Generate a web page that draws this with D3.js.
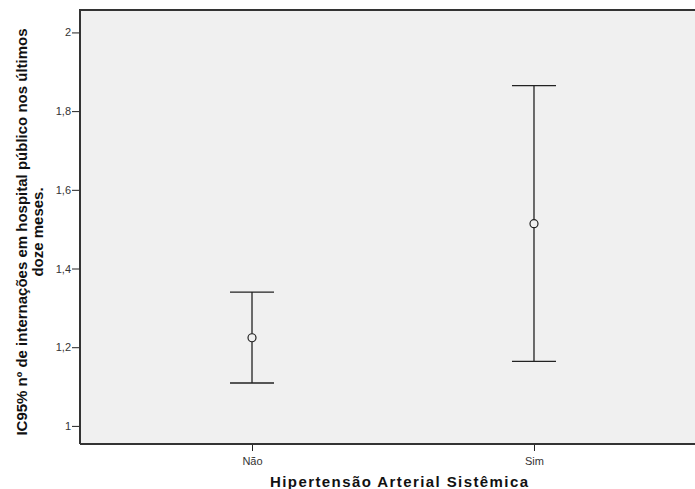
<!DOCTYPE html>
<html>
<head>
<meta charset="utf-8">
<script src="https://cdn.jsdelivr.net/npm/d3@7"></script>
<style>
body { margin: 0; background: #fff; }
svg { display: block; font-family: "Liberation Sans", Arial, sans-serif; }
</style>
</head>
<body>
<div id="chart"></div>
<script>
// grupos e IC95%
var categories = ['Não', 'Sim'];
var means = [1.224, 1.514];
var lower = [1.109, 1.164];
var upper = [1.340, 1.865];
var yTicks = [1, 1.2, 1.4, 1.6, 1.8, 2];

var width = 695, height = 489;
var margin = { top: 10, right: -11, bottom: 45, left: 80 };
var plotW = width - margin.left - margin.right,
    plotH = height - margin.top - margin.bottom;

var svg = d3.select('#chart').append('svg').attr('width', width).attr('height', height);
var g = svg.append('g').attr('transform', 'translate(' + margin.left + ',' + margin.top + ')');

var x = d3.scalePoint().domain(categories).range([0, plotW]).padding(0.61);
var y = d3.scaleLinear().domain([0.954, 2.057]).range([plotH, 0]);

g.append('rect').attr('width', plotW).attr('height', plotH).style('fill', '#f0f0f0');

var fmt = function(d) { return d3.format('.1f')(d).replace('.', ',').replace(',0', ''); };

var yAxis = g.append('g').call(d3.axisLeft(y).tickValues(yTicks).tickFormat(fmt).tickSize(8).tickPadding(1));
var xAxis = g.append('g').attr('transform', 'translate(0,' + plotH + ')')
    .call(d3.axisBottom(x).tickSize(7).tickPadding(6));
[yAxis, xAxis].forEach(function(a) {
    a.select('.domain').remove();
    a.selectAll('line').style('stroke', '#222');
    a.selectAll('text').style('font-size', '11px').style('fill', '#333');
});

// borda
g.append('path').attr('d', 'M0,' + plotH + 'V0H' + plotW)
    .style('fill', 'none').style('stroke', '#333').style('stroke-width', 2);
g.append('line').attr('x1', 0).attr('x2', plotW).attr('y1', plotH).attr('y2', plotH)
    .style('stroke', '#333').style('stroke-width', 2);

var data = categories.map(function(c, i) {
    return { cat: c, mean: means[i], lo: lower[i], hi: upper[i] };
});
var capW = 22;
var bars = g.selectAll('.bar').data(data).enter().append('g').attr('class', 'bar');
bars.append('line').attr('x1', function(d) { return x(d.cat); }).attr('x2', function(d) { return x(d.cat); })
    .attr('y1', function(d) { return y(d.lo); }).attr('y2', function(d) { return y(d.hi); });
bars.append('line').attr('x1', function(d) { return x(d.cat) - capW; }).attr('x2', function(d) { return x(d.cat) + capW; })
    .attr('y1', function(d) { return y(d.hi); }).attr('y2', function(d) { return y(d.hi); });
bars.append('line').attr('x1', function(d) { return x(d.cat) - capW; }).attr('x2', function(d) { return x(d.cat) + capW; })
    .attr('y1', function(d) { return y(d.lo); }).attr('y2', function(d) { return y(d.lo); });
bars.selectAll('line').style('stroke', '#222').style('stroke-width', 1.3);
bars.append('circle').attr('cx', function(d) { return x(d.cat); }).attr('cy', function(d) { return y(d.mean); })
    .attr('r', 4).style('fill', '#f0f0f0').style('stroke', '#222').style('stroke-width', 1.2);

svg.append('text').attr('x', 270).attr('y', 487)
    .attr('textLength', 258).attr('lengthAdjust', 'spacing')
    .style('font-size', '15px').style('font-weight', 'bold').style('fill', '#111')
    .text('Hipertensão Arterial Sistêmica');

var yt = svg.append('text').attr('transform', 'translate(27,' + 232 + ') rotate(-90)')
    .attr('text-anchor', 'middle').style('font-size', '15px').style('font-weight', 'bold').style('fill', '#111');
yt.append('tspan').attr('x', 0).attr('dy', 0).text('IC95% nº de internações em hospital público nos últimos');
yt.append('tspan').attr('x', 0).attr('dy', 15.5).text('doze meses.');
</script>
</body>
</html>
